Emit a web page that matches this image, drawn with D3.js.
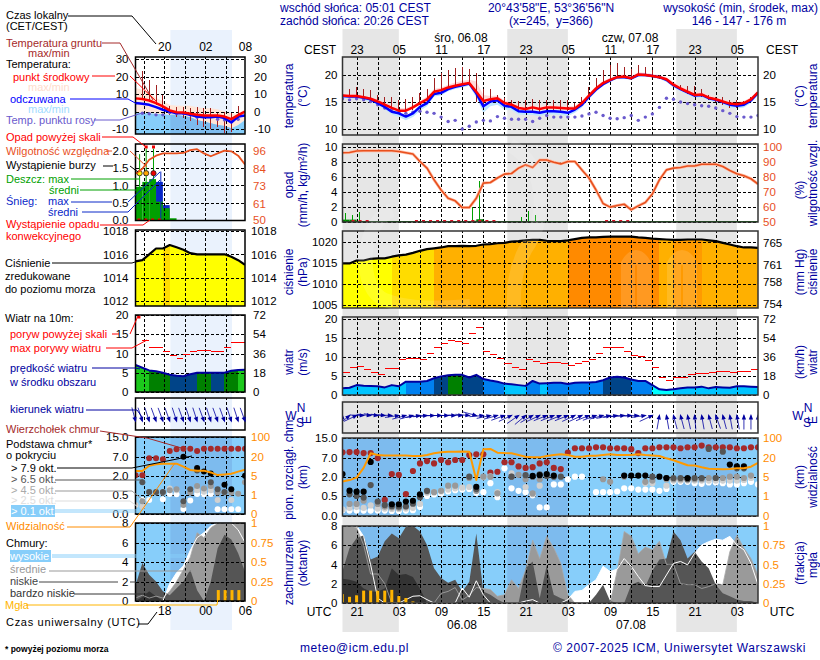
<!DOCTYPE html>
<html>
<head>
<meta charset="utf-8">
<script src="https://cdn.jsdelivr.net/npm/d3@7"></script>
<style>
  html, body { margin: 0; padding: 0; background: #fff; }
  svg { display: block; font-family: "Liberation Sans", Arial, sans-serif; font-size: 12px; }
  text { white-space: pre; }
</style>
</head>
<body>
<div id="chart"></div>
<script>
// ---- main chart, one value per hour, hour 0 = 05.08 19 UTC ----
const tempMid = [
  16.2,16.1,16.1,15.9,15.6,15.1,14.5,13.9,13.4,13.4,
  14.0,14.8,15.5,16.9,17.2,17.7,18.0,18.3,18.5,16.9,
  15.2,15.5,15.7,14.8,14.5,13.9,13.7,14.0,13.7,14.0,
  14.0,13.9,13.8,13.8,14.8,16.2,17.5,18.5,19.1,19.6,
  19.7,19.4,20.1,20.0,19.8,19.6,19.2,18.2,17.5,16.9,
  16.3,16.4,15.8,15.5,15.1,14.7,14.6,14.8,15.5,16.8];
const tempHi = [
  16.5,16.5,16.4,16.2,15.9,15.5,15,14.4,13.9,13.9,
  14.4,15.2,16,17.4,17.7,18.2,18.6,18.9,19.1,18.8,
  16.3,16.1,16.2,15.3,15,14.4,14.1,14.4,14.2,14.4,
  14.4,14.3,14.2,14.3,15.2,16.6,17.9,18.9,19.5,20,
  20.1,19.8,20.5,20.4,20.2,20,19.6,18.7,18,17.4,
  16.8,16.9,16.3,15.9,15.5,15.1,15,15.2,15.9,17.2];
const feelMid = [
  16.1,16,16,15.8,15.5,14.8,14.1,13.2,12.9,12.3,
  12.9,14.1,14.8,16.5,16.7,17.4,17.8,18.1,18.4,16.6,
  14.2,15.1,15.3,14.3,14.1,13.3,13.2,13.2,13,13.3,
  13.3,13.2,13,13.6,14.5,16,17.3,18.3,19,19.6,
  19.6,19.4,20,20,19.8,19.6,19.1,18.1,17.4,16.8,
  16.2,16.3,15.7,15.4,15,14.5,14.3,14.5,15.3,16.7];
const feelLo = [
  15.8,15.7,15.6,15.4,15,14.4,13.6,12.7,12.2,11.6,
  12.2,13.4,14.2,16,16.2,17,17.4,17.7,18,15.8,
  13,14.2,14.5,13.6,13.5,12.7,12.6,12.6,12.4,12.7,
  12.7,12.6,12.4,13,14,15.5,16.9,18,18.7,19.3,
  19.3,19.1,19.7,19.7,19.5,19.3,18.7,17.7,17,16.4,
  15.8,15.9,15.3,15,14.5,14,13.8,14,14.8,16.3];
const groundMax = [
  16.4,17.5,17.7,17.4,17.2,16.3,16,16,15.4,15.5,
  16,16.6,17.5,19.4,20.3,21,21.3,21.5,21.2,20.4,
  17.5,17.5,16.3,15.7,15.4,15.1,15.4,15.6,15.4,15.4,
  15.4,15.4,15.4,14.8,16,17.8,19.4,20.9,21.8,22.3,
  21.5,21.2,21.9,21.5,20.9,20,19.4,18.5,18.2,18,
  17.9,17.5,16.3,16,16,15.4,15.4,15.1,16,17.2];
const groundMin = [
  16,15.9,15.9,15.6,15.2,14.6,13.8,13.1,12.9,13,
  13.6,14.4,15.2,16.5,16.9,17.4,17.7,18,18.2,15,
  14.4,15,15.2,14.3,13.9,13.2,13,13.4,12.8,13.3,
  13.4,13.3,13.3,13.4,14.4,15.9,17.2,18.2,18.9,19.4,
  19.5,19.2,19.9,19.8,19.6,19.3,18.9,17.9,17.2,16.5,
  15.9,16,15.4,15,14.4,13.9,13.8,14.2,15,16.4];
const dewPoint = [
  15.6,15.4,15.6,15.4,15.1,14.5,13.9,13.6,13.1,12.9,
  13.1,13.3,13.1,12.9,12.2,11.4,11.6,10,10.5,11.3,
  11.6,11.5,12.3,12,11.8,11.8,11.8,11.4,12,12.5,
  12.2,12.2,12.2,12.2,12.4,12.8,13.1,12.5,12,11.9,
  12.1,12.5,11.6,12.2,12.8,14,15.7,15.5,15,14.7,
  14.5,14.3,14.2,13.9,13.4,12.9,12.3,12.2,12.2,12.5];
const humidity = [
  95.8,96,97,97.2,97.2,97.2,97.2,97.2,96.7,95.8,
  95,90,85.6,77.8,71,65.5,63.8,59.3,59.3,65.5,
  75.6,76,79,81.6,82,85.6,87.8,86,91,91,
  89.5,88.4,90,90,84.4,79,71,62,59.6,60.7,
  61.5,57.8,60.4,62.7,68.4,77.8,84.4,85.6,86,87,
  87,88.2,88.2,88.2,86.7,84,81.8,80.5,78.5,75];
const rainHours = [0.4,1.4,2.4,18.5,19.5,25.4,26.4,27.4];
const rainMax = [1.1,0.9,1.25,2,5.4,0.6,1.4,0.9];
const rainMeanHours = [0,1,18.5,19];
const rainMean = [0.25,0.25,0.1,0.3];
const convectiveHours = [1.5,2.5,3.5,10.5,11.5,12.5,13.5,14.5,15.5,16.5,17.5,18.5,19.5,20.5,21.5,37.5,38.5,39.5,40.5];
const pressure = [
  1014.9,1014.9,1015.6,1015.6,1016,1016.1,1016.1,1016.5,1016.8,1017,
  1017.4,1017.9,1018.3,1018.5,1018.7,1019,1019,1019.1,1019,1019.1,
  1019.4,1019.5,1019.7,1019.8,1020.1,1020.2,1020.4,1020.5,1020.5,1020.3,
  1020.2,1020.2,1020.4,1020.7,1021,1021.1,1021.1,1021.2,1021.3,1021.3,
  1021.3,1021.3,1021.1,1021,1020.8,1020.7,1020.6,1020.5,1020.5,1020.6,
  1020.6,1020.6,1020.4,1020.2,1019.8,1019.4,1019,1018.7,1018.7,1018.6];
const pressureClass = [
  0,0,0,0,0,0,0,1,1,1,
  1,1,1,2,2,2,2,2,2,2,
  2,2,2,2,2,2,2,2,2,2,
  2,2,4,4,4,4,4,4,4,4,
  4,4,4,4,4,2,2,3,3,3,
  3,2,2,2,2,2,2,2,2];
const windSpeed = [
  1.75,1.9,2.6,2.45,2.4,2.3,2,2.6,2.3,3.5,
  3.5,3.5,3.7,4.4,4.9,5.2,5.3,5.3,4.6,5.3,
  4.2,3.8,3.5,3,2.8,2.6,2.4,3.7,3,3.1,
  3.2,3.2,2.9,3.2,3.3,3.3,3.4,3.9,4.6,4.8,
  4.6,4.1,3.7,3.7,2.6,1.5,1.3,1.5,1.75,2,
  2,2.2,1.75,2.1,2,1.9,2.3,2.3,2.2,2.1];
const windClass = [
  1,1,1,1,1,1,1,1,1,2,
  2,2,2,3,3,4,4,3,3,3,
  2,2,2,1,1,1,2,2,1,2,
  2,2,2,2,2,2,2,3,3,3,
  3,2,2,2,0,0,0,1,1,1,
  1,1,1,1,1,1,1,1,1];
const gusts = [
  6,7.2,7.5,6.8,6,5.35,7,7,9.3,9.6,
  9.6,9.4,11,12.5,13.6,14.4,14,13.6,16.2,17.8,
  11.5,10.7,9.6,8.3,7.3,6.8,9.4,8.9,8.3,8.6,
  8.6,8.3,7.8,8.3,8.9,9.4,10.8,12.5,12.5,12.5,
  11.5,10.4,10.1,9.1,7.3,4.65,3.85,4.65,4.65,5.35,
  5.7,5.7,6,6.2,6.2,6,6.2,6.2,6.8];
const windDir = [
  180,230,245,272,275,277,275,272,262,255,
  255,262,265,268,270,270,270,272,275,285,
  265,258,255,250,245,235,230,240,245,248,
  248,248,248,245,245,248,250,255,258,262,
  265,268,268,262,245,190,170,165,165,168,
  175,170,165,160,165,170,170,180,180,180];
const cloudTop = [
  9.2,9.3,9.3,8.9,8.9,6.9,.4,2.7,2.5,.65,
  3.5,5.5,6.1,5.5,6.4,5.8,6.4,6.4,8.1,8.4,
  8.4,3.05,3.3,5.8,5.8,4.7,4.3,4.5,5.5,5.8,
  4.3,4,9.1,10.9,10.9,10.9,11.3,11.3,10.9,10.9,
  10.9,10.5,8.9,10.9,10.9,11.3,11.3,11.3,10.9,11.3,
  11.3,12,11.3,11.3,11.3,11.3,10.9,10.9,11.3,11.3];
const base79 = [
  2.7,.91,.84,.84,5.9,null,null,.29,.29,.36,
  .38,.63,null,null,null,null,null,null,null,1.22,
  null,null,null,null,null,null,null,2.2,2.4,2.7,
  2.3,null,null,null,null,null,null,null,null,null,
  2.3,2.3,2.3,2.3,null,2,1.9,null,null,1.9,
  null,null,null,null,null,5.2,4.7,4.7,null,null];
const base65 = [
  null,.63,.5,.46,1.35,.36,.27,.24,.23,.24,
  .31,.47,.9,null,null,null,null,null,2,1.04,
  null,null,null,null,2,null,2.4,2,2.6,2.2,
  2,2,null,null,null,null,null,null,null,null,
  null,null,null,null,2,null,1.9,1.9,1.9,1.8,
  1.9,1.9,10.6,1.9,9.5,null,4.2,4.2,null,null];
const base45 = [
  null,.3,.3,.38,null,.3,.23,.21,.2,.22,
  .3,.5,.85,.8,.9,1.3,1.3,null,1.9,.9,
  2,2,.7,null,2,2.5,1.8,.7,1.8,null,
  null,null,null,null,null,null,null,1.8,1.6,null,
  2,null,null,1.6,1.7,null,1.8,1.8,1.8,1.8,
  1.8,1.8,1.9,1.9,1.9,2,2,1.9,2.3,null];
const base25 = [
  .16,.2,.22,.2,.26,.18,.18,.17,.17,.18,
  .2,.3,.75,.8,.85,1,1.1,1.15,1.2,.9,
  1.95,2.1,.8,null,2.9,null,1.2,.65,1.3,null,
  null,null,null,null,null,null,null,null,null,null,
  null,null,null,1.5,1.5,null,1.3,1.7,1.7,1.7,
  1.7,1.7,1.7,1.7,1.7,1.7,1.7,1.75,1.9,null];
const base01 = [
  .14,.13,.13,.13,.13,.13,.13,.12,.12,.13,
  .14,.22,.5,.62,.7,.85,.95,1,1.05,.75,
  .8,1.5,.47,4.2,1.1,.9,.8,.55,.21,.21,
  1.4,1.4,1.8,2,2,null,.8,.8,.8,.85,
  1.1,1.1,1,1,1,.9,1.05,1.6,1.6,1.6,
  1.5,1.45,1.55,1.55,1.5,1.4,1.4,1.5,1.6,1.4];
const visibility = [
  4,4.3,4.8,12,38,31,28.7,28.7,28.7,28.7,
  27,27,31,38,42,45,45,46,45,4.3,
  54.5,56,40.7,39,38,31,24,21.4,21.4,27,
  31,34,31,24,24,28.3,28.3,31,34,31,
  31,31,34,31,28.7,27,19.5,18,16,14,
  13.8,12.4,11.3,11,10.8,11,11.6,11.6,12.9,15.9];
const coverHigh = [
  8,8,8,6.9,3.95,.5,0,0,0,.35,
  .7,.75,.35,0,0,0,0,1.55,.6,2.3,
  .85,0,0,0,0,0,.2,.35,0,0,
  0,0,.35,1.2,1.3,1.9,2.4,3.8,3.25,3.5,
  4.6,3.8,2.75,1.8,1.7,1.7,2.9,4.1,4.3,3.95,
  5.15,6,6.35,6.6,6.5,6.9,6,5.5,4.1,1.9];
const coverMid = [
  8,8,7.8,6,3,3,2,0,0,0,
  0,0,0,0,1,1.2,1.6,.3,.8,1.6,
  1.5,1.4,.7,.85,2.4,1.5,3.4,6.5,4.6,6.9,
  5.7,4.1,.85,0,0,0,0,0,0,3.3,
  7.4,6.9,5.1,5.8,5.5,6.4,4,4,2,1.9,
  1.9,1.5,1.7,2,1.9,5.3,7,5.7,4.6,2.9];
const coverLow = [
  3.3,5.7,6.7,7,4.5,4.8,6.4,7.2,6.7,7.9,
  8,7.4,6,3.6,2.6,2.1,2.4,1.2,2.2,7.2,
  1.2,.85,.35,0,0,0,3.6,4.3,.5,3.9,
  .85,.5,.2,0,0,0,.85,1.9,.2,0,
  0,1.9,2.2,1.7,3.3,4.5,4.6,7.4,6.5,4.6,
  5.3,4.3,3.6,1.9,1,.7,.35,.2,.2,0];
const coverVeryLow = [
  2.5,2.4,2.2,1.5,1.2,1.2,1.5,3.6,2.9,3,
  2.7,1.5,0,0,0,0,0,0,0,0,
  0,0,0,0,0,0,0,0,0,0,
  0,0,0,0,0,0,0,0,0,0,
  0,0,0,0,0,0,0,0,0,0,
  0,0,0,0,0,0,0,0,0,0];
const fogHours = [0,1,2,3,4,5,6,7,8,9,10];
const fog = [.115,.08,.1,.16,.16,.16,.16,.17,.09,.065,.02];

// ---- example (legend) panel, one value per hour ----
const legTempHi = [13.5,12.5,11,7.7,5.8,3.8,3.3,3.3,3.3,2.5,1.9,1.9,1.3,0,-1.3,-1,1];
const legFeelHi = [0,-1,-1,-1.3,-1.5,-1.9,-1.9,-2.5,-3.3,-4.8,-5.8,-6.7,-7.7,-8.3,-9.6,-7.7,-4.8];
const legFeelLo = [-20,-20,-20,-20,-20,-20,-20,-20,-20,-20,-20,-20,-20,-20,-20,-20,-20];
const legTemp = [7.5,7.1,6.3,4.8,2.9,.6,-.4,-.6,-1.3,-1.9,-2.3,-2.3,-2.3,-2.9,-4.4,-2.1,0];
const legFeel = [4.8,4.4,3.8,2.5,1,0,-1,-1,-1.9,-2.9,-3.3,-3.3,-2.9,-3.8,-6.3,-2.9,-2.3];
const legDew = [null,-1,-1.3,-1.9,-1.9,-.6,-1,-1,-1.9,-3.3,-2.9,-2.9,-4.4,-4.8,-5.8,-4.4,null];
const legGroundMax = [null,23,18,15,9.6,2.9,2.5,2.5,1.9,2.5,1.9,1.9,-1,0,-1,3.3,null];
const legGroundMin = [null,7,6.7,3.8,1,-1.9,-2.9,-3.8,-5.2,-7.7,-8.7,-10.2,-8.7,-12.5,-11.9,-4.8,null];
const legHumidity = [80.7,84,90,92.7,94.2,94.2,94.2,94.5,96.4,97,94.2,92.3,94.2,96,95.6,92.7,86.8];
const legRainBars = [.96,1.1,1.18,.53,.34,.05];
const legSnowBars = [0,0,0,1.1,.43,0];
const legRainHours = [.6,1.56,2.63];
const legRainMax = [1.9,2.06,2.06];
const legStormLevel = [1.35,1.35,1.35];
const legOverScaleHours = [1.56,2.63];
const legSnowHour = [3.7];
const legSnowMax = [1.4];
const legConvectiveHours = [.5,1.5,2.5,3.5];
const legPressure = [1015.4,1015.5,1016,1016.5,1016.5,1016.8,1016.6,1016.4,1016.1,1016,1016,1016,1016,1016,1015.8,1015.5,1015.1];
const legPressureClass = [0,0,0,0,1,0,0,0,0,0,0,0,0,0,0,0];
const legWind = [7,6.3,5.6,5.4,5,4.5,4.2,4.1,4.6,5,5,5,5,5,5.5,5.7,5.8];
const legWindClass = [5,5,4,4,4,3,3,3,3,4,4,3,3,4,4,5];
const legGusts = [null,13.5,11.6,11.6,10.4,9.4,8.7,9.7,10.4,10.7,10.7,10.4,10.4,11.6,12.8,12.8];
const legDir = [345,342,342,340,340,340,342,340,342,342,340,342,340,340,342,342,340];
const legCloudTop = [2.1,2.1,6.6,6.6,6.3,9.3,10,10.2,10.2,9.3,10.2,10.2,10.2,10.2,10.2,10.2,10.2];
const legBase79 = [null,null,null,null,null,null,null,7,null,4,3.1,2.6,null,1.3,.95,null,2];
const legBase65 = [null,1.5,.73,.73,.73,null,null,.34,.95,3.4,null,1.5,.95,.73,null,null,null];
const legBase45 = [null,.34,.73,.7,.7,.86,.95,.24,.7,1.2,1,1.2,.7,.7,.7,.6,1.5];
const legBase25 = [.24,.2,null,null,.7,1,.86,null,null,.86,.76,.86,.37,null,.37,null,null];
const legBase01 = [null,.37,.37,null,.39,.58,.56,.14,.36,.58,.56,.58,.13,.13,.13,.13,null];
const legVisibility = [8.7,8.7,12.9,14,14.5,14.5,14.5,12.1,9.5,9,9,7.6,5.5,6,6.6,8.2,9.7];
const legHigh = [0,0,0,0,0,1.8,2.9,3.6,5.2,6.5,7,7.7,8,8,8,7.3,6];
const legMid = [.3,.6,.3,.5,.3,1,2,3.2,4.5,7,6.5,7.5,8,8,8,8,8];
const legLow = [1.6,3.9,2.7,2,1,.6,1.3,2,3.2,1.1,0,2,5.4,6.8,6.3,4.9,3];
const legVeryLow = [0,.4,1,.5,0,0,0,0,0,0,0,0,0,0,0,0,0];
const legFogHours = [12.1,13.1,14.1,15.1];
const legFog = [.14,.14,.14,.14];

// ---- tick labels ----
const gridHours = [2,5,8,11,14,17,20,23,26,29,32,35,38,41,44,47,50,53,56];
const labelHours = [2,8,14,20,26,32,38,44,50,56];
const cestLabels = ["23","05","11","17","23","05","11","17","23","05"];
const utcLabels = ["21","03","09","15","21","03","09","15","21","03"];
const nightStart = [0,23.4,47.4];
const nightEnd = [8,32,56];
const legGridHours = [1.2,4.2,7.2,10.2,13.2];
const legLabelHours = [4.2,10.2,16];
const legCestLabels = ["20","02","08"];
const legUtcLabels = ["18","00","06"];
const legNight = [5.1,14.1];

const navy = "#0000a0";
const orange = "#ff8c00";
const rhColor = "#e8501e";
const sky = "#87cefa";
const skyNight = "#7dbbee";
const pressureColors = ["#ffff00","#ffdc00","#ffb000","#ff9a00","#ff8a00"];
const windColors = ["#00ffff","#00c4ff","#0080f0","#004488","#008000","#1cc81c"];

const svg = d3.select("#chart").append("svg").attr("width", 820).attr("height", 660);

const xMain = d3.scaleLinear().domain([0, 59]).range([342.5, 758]);
const xLeg = d3.scaleLinear().domain([0, 16]).range([135.5, 245]);

// night bands behind everything
svg.selectAll(".nightBand").data(nightStart).enter().append("rect")
  .attr("x", d => xMain(d))
  .attr("y", 29)
  .attr("width", (d, i) => xMain(nightEnd[i]) - xMain(d))
  .attr("height", 603)
  .attr("fill", "#e6e6e6");
svg.append("rect")
  .attr("x", xLeg(legNight[0]))
  .attr("y", 30)
  .attr("width", xLeg(legNight[1]) - xLeg(legNight[0]))
  .attr("height", 600)
  .attr("fill", "#eaf2fd");

let panelCount = 0;
function panel(cfg) {
  const id = "clip" + (panelCount++);
  const x0 = cfg.x.range()[0], x1 = cfg.x.range()[1];
  svg.append("clipPath").attr("id", id).append("rect")
    .attr("x", x0).attr("y", cfg.top).attr("width", x1 - x0).attr("height", cfg.bottom - cfg.top);
  const under = svg.append("g").attr("clip-path", `url(#${id})`);
  const grid = svg.append("g");
  const over = svg.append("g").attr("clip-path", `url(#${id})`);

  grid.append("g")
    .attr("transform", `translate(0,${cfg.bottom})`)
    .call(d3.axisBottom(cfg.x).tickValues(cfg.grid).tickSize(cfg.top - cfg.bottom).tickFormat(""))
    .call(g => g.select(".domain").remove())
    .selectAll("line").attr("stroke", "#000").attr("stroke-dasharray", "3,2").attr("shape-rendering", "crispEdges");

  const left = grid.append("g")
    .attr("transform", `translate(${x0},0)`)
    .call(d3.axisLeft(cfg.yLeft).tickValues(cfg.leftTicks).tickSize(x0 - x1).tickPadding(cfg.leftPad || 5).tickFormat(cfg.leftFmt || (d => d)))
    .call(g => g.select(".domain").remove());
  left.selectAll("line").attr("stroke", "#000").attr("stroke-dasharray", "3,2").attr("shape-rendering", "crispEdges");
  left.attr("font-family", null).attr("font-size", null);
  left.selectAll("text").attr("fill", "#000").style("font-size", "11.5px");

  if (cfg.yRight) {
    const right = grid.append("g")
      .attr("transform", `translate(${x1},0)`)
      .call(d3.axisRight(cfg.yRight).tickValues(cfg.rightTicks).tickSize(0).tickPadding(cfg.rightPad || 5).tickFormat(cfg.rightFmt || (d => d)))
      .call(g => g.select(".domain").remove());
    right.attr("font-family", null).attr("font-size", null);
    right.selectAll("text").attr("fill", cfg.rightColor || "#000").style("font-size", "11.5px");
  }

  svg.append("rect")
    .attr("x", x0).attr("y", cfg.top).attr("width", x1 - x0).attr("height", cfg.bottom - cfg.top)
    .attr("fill", "none")
    .attr("stroke", cfg.frame || "#000")
    .attr("stroke-width", cfg.frameWidth || 1.5);
  return { under, over, x: cfg.x };
}

function drawLine(g, x, y, values, color, width) {
  g.append("path")
    .attr("d", d3.line().x((d, i) => x(i)).y(d => y(d))(values))
    .attr("fill", "none").attr("stroke", color).attr("stroke-width", width)
    .attr("stroke-linejoin", "round");
}

function drawBand(g, x, y, hi, lo, color) {
  g.append("path")
    .attr("d", d3.area().x((d, i) => x(i)).y0((d, i) => y(lo[i])).y1(d => y(d))(hi))
    .attr("fill", color);
}

function drawClassFill(g, x, y, values, classes, colors) {
  classes.forEach((c, i) => {
    g.append("path")
      .attr("d", d3.area().x(d => x(d)).y0(y.range()[0] + 6).y1(d => y(values[d]))([i, i + 1]))
      .attr("fill", colors[c])
      .attr("shape-rendering", "crispEdges");
  });
}

function drawDots(g, x, y, values, color, r) {
  values.forEach((v, i) => {
    if (v === null) return;
    g.append("circle").attr("cx", x(i)).attr("cy", y(v)).attr("r", r).attr("fill", color);
  });
}

function drawArrows(g, x, tipY, dirs, len) {
  dirs.forEach((dir, i) => {
    const rad = dir * Math.PI / 180;
    const tx = x(i), ty = tipY;
    const bx = tx + len * Math.sin(rad), by = ty - len * Math.cos(rad);
    const ang = Math.atan2(ty - by, tx - bx);
    const head = 4.5;
    g.append("line").attr("x1", bx).attr("y1", by).attr("x2", tx).attr("y2", ty)
      .attr("stroke", navy).attr("stroke-width", 0.8);
    g.append("path")
      .attr("d", d3.line()([
        [tx + 1.5 * Math.cos(ang), ty + 1.5 * Math.sin(ang)],
        [tx - head * Math.cos(ang - 0.5), ty - head * Math.sin(ang - 0.5)],
        [tx - head * Math.cos(ang + 0.5), ty - head * Math.sin(ang + 0.5)]
      ]) + "Z")
      .attr("fill", navy);
  });
}

function drawCover(p, y, yF, high, mid, low, veryLow, fHours, fVals, barW) {
  const x = p.x;
  const layer = (vals, color) => p.under.append("path")
    .attr("d", d3.area().x((d, i) => x(i)).y0(y(0)).y1(d => y(d))(vals)).attr("fill", color);
  layer(high, "#fff");
  layer(mid, "#9a9a9a");
  layer(low, "#555");
  layer(veryLow, "#333");
  drawLine(p.over, x, y, mid, "#aaa", 0.8);
  drawLine(p.over, x, y, high, "#fff", 1);
  fVals.forEach((v, i) => {
    p.over.append("rect")
      .attr("x", x(fHours[i]) - barW / 2).attr("y", yF(v))
      .attr("width", barW).attr("height", yF(0) - yF(v))
      .attr("fill", "#ffb400");
  });
}

function timeAxis(x, y, tickHours, labels) {
  const g = svg.append("g")
    .attr("transform", `translate(0,${y})`)
    .call(d3.axisTop(x).tickValues(tickHours).tickSize(0).tickPadding(0).tickFormat((d, i) => labels[i]))
    .call(g => g.select(".domain").remove());
  g.attr("font-family", null).attr("font-size", null);
  g.selectAll("text").attr("fill", "#000");
}

function label(x, y, text, color, anchor, size, weight) {
  return svg.append("text")
    .attr("x", x).attr("y", y + 4)
    .attr("fill", color || "#000")
    .attr("text-anchor", anchor || "start")
    .style("font-size", size || "12px")
    .style("font-weight", weight || "normal")
    .text(text);
}

function legendLabel(x, y, text, color) {
  return label(x, y, text, color, "start", "11px");
}

function vLabel(x, y, text, color) {
  svg.append("text")
    .attr("transform", `translate(${x + 4},${y}) rotate(-90)`)
    .attr("text-anchor", "middle")
    .attr("fill", color || navy)
    .text(text);
}

// ---- main panels ----
const yTemp = d3.scaleLinear().domain([10, 20]).range([129, 75]);
const pTemp = panel({ x: xMain, grid: gridHours, top: 57, bottom: 135, yLeft: yTemp, leftTicks: [10,15,20],
  yRight: yTemp, rightTicks: [10,15,20], frame: "#333", frameWidth: 1.5 });
drawBand(pTemp.under, xMain, yTemp, tempHi, tempMid, "#ffd9d9");
drawBand(pTemp.under, xMain, yTemp, feelMid, feelLo, "#bfe6ff");
groundMax.forEach((v, i) => {
  pTemp.over.append("line")
    .attr("x1", xMain(i)).attr("x2", xMain(i))
    .attr("y1", yTemp(v)).attr("y2", yTemp(groundMin[i]))
    .attr("stroke", "#a02020").attr("stroke-width", 1).attr("shape-rendering", "crispEdges");
});
drawDots(pTemp.over, xMain, yTemp, dewPoint, "#6a5acd", 1.7);
drawLine(pTemp.over, xMain, yTemp, feelMid, "#0000ff", 2.5);
drawLine(pTemp.over, xMain, yTemp, tempMid, "#ff0000", 2.5);

const yRain = d3.scaleLinear().domain([0, 10]).range([221.5, 146.5]);
const yHum = d3.scaleLinear().domain([50, 100]).range([221.5, 146.5]);
const pRain = panel({ x: xMain, grid: gridHours, top: 144, bottom: 222, yLeft: yRain, leftTicks: [0,2,4,6,8,10],
  yRight: yHum, rightTicks: [50,60,70,80,90,100], rightColor: rhColor, frame: "#333", frameWidth: 1.5 });
pRain.over.append("line").attr("x1", xMain(0)).attr("x2", xMain(59)).attr("y1", yRain(0)).attr("y2", yRain(0))
  .attr("stroke", "#008000").attr("stroke-width", 1);
rainMeanHours.forEach((h, i) => {
  pRain.over.append("rect")
    .attr("x", xMain(h)).attr("width", xMain(1) - xMain(0))
    .attr("y", yRain(rainMean[i])).attr("height", yRain(0) - yRain(rainMean[i]))
    .attr("fill", "#008000");
});
rainHours.forEach((h, i) => {
  pRain.over.append("line").attr("x1", xMain(h)).attr("x2", xMain(h))
    .attr("y1", yRain(0)).attr("y2", yRain(rainMax[i]))
    .attr("stroke", "#00a000").attr("stroke-width", 1).attr("shape-rendering", "crispEdges");
});
convectiveHours.forEach(h => {
  pRain.over.append("rect").attr("x", xMain(h) - 1.5).attr("y", yRain(0) - 1.5)
    .attr("width", 3).attr("height", 2).attr("fill", "#d81020");
});
drawLine(pRain.over, xMain, yHum, humidity, "#ffbfa8", 3);
drawLine(pRain.over, xMain, yHum, humidity, rhColor, 1.6);

const yPress = d3.scaleLinear().domain([1005, 1020]).range([305, 242]);
const yMmHg = d3.scaleLinear().domain([753.8, 765.1]).range([305, 242]);
const pPress = panel({ x: xMain, grid: gridHours, top: 231, bottom: 308, yLeft: yPress, leftTicks: [1005,1010,1015,1020],
  yRight: yMmHg, rightTicks: [754,758,761,765], frame: "#333", frameWidth: 1.5 });
drawClassFill(pPress.under, xMain, yPress, pressure, pressureClass, pressureColors);
drawLine(pPress.over, xMain, yPress, pressure, "#000", 2.2);

const yWind = d3.scaleLinear().domain([0, 20]).range([395, 319]);
const yKmh = d3.scaleLinear().domain([0, 72]).range([395, 319]);
const pWind = panel({ x: xMain, grid: gridHours, top: 317, bottom: 395, yLeft: yWind, leftTicks: [0,5,10,15,20],
  yRight: yKmh, rightTicks: [0,18,36,54,72], frame: "#333", frameWidth: 1.5 });
drawClassFill(pWind.under, xMain, yWind, windSpeed, windClass, windColors);
gusts.forEach((v, i) => {
  pWind.over.append("line").attr("x1", xMain(i)).attr("x2", xMain(i + 1))
    .attr("y1", yWind(v)).attr("y2", yWind(v)).attr("stroke", "#ff0000").attr("stroke-width", 1).attr("shape-rendering", "crispEdges");
});
drawLine(pWind.over, xMain, yWind, windSpeed, "#0000a0", 2);

const yDirMain = d3.scaleLinear().domain([0, 1]).range([433, 402]);
const pDir = panel({ x: xMain, grid: gridHours, top: 402, bottom: 433, yLeft: yDirMain, leftTicks: [], frame: "#333", frameWidth: 1.5 });
drawArrows(pDir.over, xMain, 415.5, windDir, 14);

const kmDomain = [0, .5, 2, 7, 15];
const visDomain = [0, 1, 5, 20, 100];
const yCloud = d3.scaleLinear().domain(kmDomain).range([515.7, 496, 476.7, 457.7, 438.3]);
const yVis = d3.scaleLinear().domain(visDomain).range([515.7, 496, 476.7, 457.7, 438.3]);
const pCloud = panel({ x: xMain, grid: gridHours, top: 438, bottom: 516, yLeft: yCloud, leftTicks: kmDomain, leftFmt: d3.format(".1f"),
  yRight: yVis, rightTicks: visDomain, rightColor: orange, frame: "#333", frameWidth: 1.5 });
pCloud.under.append("rect").attr("x", 342).attr("y", 438).attr("width", 416).attr("height", 78).attr("fill", sky);
nightStart.forEach((d, i) => {
  pCloud.under.append("rect").attr("x", xMain(d)).attr("y", 438)
    .attr("width", xMain(nightEnd[i]) - xMain(d)).attr("height", 78).attr("fill", skyNight);
});
drawDots(pCloud.over, xMain, yCloud, cloudTop, "#a52a2a", 3.1);
drawDots(pCloud.over, xMain, yCloud, base01, "#fff", 3.1);
drawDots(pCloud.over, xMain, yCloud, base25, "#d0d0d0", 3.1);
drawDots(pCloud.over, xMain, yCloud, base45, "#999", 3.1);
drawDots(pCloud.over, xMain, yCloud, base65, "#555", 3.1);
drawDots(pCloud.over, xMain, yCloud, base79, "#000", 3.1);
drawLine(pCloud.over, xMain, yVis, visibility, "#ff9900", 2);

const yCover = d3.scaleLinear().domain([0, 8]).range([603, 525.7]);
const yFog = d3.scaleLinear().domain([0, 1]).range([603, 525.7]);
const pCover = panel({ x: xMain, grid: gridHours, top: 526, bottom: 603, yLeft: yCover, leftTicks: [0,2,4,6,8],
  yRight: yFog, rightTicks: [0,.25,.5,.75,1], rightColor: orange, frame: "#333", frameWidth: 1.5 });
pCover.under.append("rect").attr("x", 342).attr("y", 526).attr("width", 416).attr("height", 78).attr("fill", sky);
nightStart.forEach((d, i) => {
  pCover.under.append("rect").attr("x", xMain(d)).attr("y", 526)
    .attr("width", xMain(nightEnd[i]) - xMain(d)).attr("height", 78).attr("fill", skyNight);
});
drawCover(pCover, yCover, yFog, coverHigh, coverMid, coverLow, coverVeryLow, fogHours, fog, 3);

timeAxis(xMain, 54, labelHours, cestLabels);
timeAxis(xMain, 616, labelHours, utcLabels);

// faint logo strokes that show through the bands and the pressure fill
const logoStrokes = [
  "M392 210 C358 225 358 290 385 300 C410 310 440 308 470 306",
  "M510 145 C545 165 550 215 525 250 C515 270 512 290 515 320",
  "M628 308 V264 Q636 250 644 264 V308",
  "M674 308 V264 Q682 250 690 264 V308"
];
logoStrokes.forEach(d => {
  svg.append("path").attr("d", d)
    .attr("fill", "none").attr("stroke", "#fff").attr("stroke-opacity", 0.13).attr("stroke-width", 14);
});

// ---- legend panels ----
const yLegTemp = d3.scaleLinear().domain([-10, 30]).range([129, 59]);
const pLegTemp = panel({ x: xLeg, grid: legGridHours, top: 57, bottom: 134, yLeft: yLegTemp, leftTicks: [-10,0,10,20,30], leftPad: 7,
  yRight: yLegTemp, rightTicks: [-10,0,10,20,30], rightPad: 9 });
drawBand(pLegTemp.under, xLeg, yLegTemp, legTempHi, legFeelHi, "#ffe6d8");
drawBand(pLegTemp.under, xLeg, yLegTemp, legFeelHi, legFeelLo, sky);
svg.append("clipPath").attr("id", "legNightClip").append("rect")
  .attr("x", xLeg(legNight[0])).attr("y", 57)
  .attr("width", xLeg(legNight[1]) - xLeg(legNight[0])).attr("height", 77);
pLegTemp.under.append("g").attr("clip-path", "url(#legNightClip)").call(g =>
  drawBand(g, xLeg, yLegTemp, legFeelHi, legFeelLo, skyNight));
legGroundMax.forEach((v, i) => {
  if (v === null) return;
  pLegTemp.over.append("line").attr("x1", xLeg(i)).attr("x2", xLeg(i))
    .attr("y1", yLegTemp(v)).attr("y2", yLegTemp(legGroundMin[i]))
    .attr("stroke", "#a02020").attr("stroke-width", 1).attr("shape-rendering", "crispEdges");
});
drawDots(pLegTemp.over, xLeg, yLegTemp, legDew, "#6a5acd", 1.7);
drawLine(pLegTemp.over, xLeg, yLegTemp, legFeel, "#0000ff", 2.5);
drawLine(pLegTemp.over, xLeg, yLegTemp, legTemp, "#ff0000", 2.5);

const yLegRain = d3.scaleLinear().domain([0, 2]).range([220, 150.7]);
const yLegHum = d3.scaleLinear().domain([50, 96]).range([220, 150.7]);
const pLegRain = panel({ x: xLeg, grid: legGridHours, top: 144, bottom: 220.5, yLeft: yLegRain, leftTicks: [0,.5,1,1.5,2], leftFmt: d3.format(".1f"), leftPad: 7,
  yRight: yLegHum, rightTicks: [50,61,73,84,96], rightColor: rhColor, rightPad: 8 });
legSnowBars.forEach((v, i) => {
  pLegRain.under.append("rect").attr("x", xLeg(i)).attr("width", xLeg(1) - xLeg(0))
    .attr("y", yLegRain(v)).attr("height", yLegRain(0) - yLegRain(v)).attr("fill", "#0a28c8");
});
legRainBars.forEach((v, i) => {
  pLegRain.under.append("rect").attr("x", xLeg(i)).attr("width", xLeg(1) - xLeg(0))
    .attr("y", yLegRain(v)).attr("height", yLegRain(0) - yLegRain(v)).attr("fill", "#00a000");
});
legRainHours.forEach((h, i) => {
  pLegRain.over.append("line").attr("x1", xLeg(h)).attr("x2", xLeg(h))
    .attr("y1", yLegRain(0)).attr("y2", yLegRain(legRainMax[i]))
    .attr("stroke", "#00a000").attr("stroke-width", 1);
  pLegRain.over.append("circle").attr("cx", xLeg(h)).attr("cy", yLegRain(legStormLevel[i])).attr("r", 2.6)
    .attr("fill", ["#ffee00","#ffa500","#ee0000"][i]).attr("stroke", "#222").attr("stroke-width", 0.8);
});
legOverScaleHours.forEach(h => {
  pLegRain.over.append("rect").attr("x", xLeg(h) - 1.5).attr("y", 145.5).attr("width", 3).attr("height", 3).attr("fill", "#ee0000");
});
legSnowHour.forEach((h, i) => {
  pLegRain.over.append("line").attr("x1", xLeg(h)).attr("x2", xLeg(h))
    .attr("y1", yLegRain(0)).attr("y2", yLegRain(legSnowMax[i])).attr("stroke", "#0a28c8");
});
legConvectiveHours.forEach(h => {
  pLegRain.over.append("rect").attr("x", xLeg(h) - 1.5).attr("y", yLegRain(0) - 1.5).attr("width", 3).attr("height", 1.5).attr("fill", "#ee0000");
});
drawLine(pLegRain.over, xLeg, yLegHum, legHumidity, "#e8501e", 1.8);

const yLegPress = d3.scaleLinear().domain([1012, 1018]).range([301, 231]);
const pLegPress = panel({ x: xLeg, grid: legGridHours, top: 230, bottom: 306, yLeft: yLegPress, leftTicks: [1012,1014,1016,1018], leftPad: 7,
  yRight: yLegPress, rightTicks: [1012,1014,1016,1018], rightPad: 6 });
drawClassFill(pLegPress.under, xLeg, yLegPress, legPressure, legPressureClass, pressureColors);
drawLine(pLegPress.over, xLeg, yLegPress, legPressure, "#000", 2.2);

const yLegWind = d3.scaleLinear().domain([0, 20]).range([392, 315]);
const yLegKmh = d3.scaleLinear().domain([0, 72]).range([392, 315]);
const pLegWind = panel({ x: xLeg, grid: legGridHours, top: 315, bottom: 392, yLeft: yLegWind, leftTicks: [0,5,10,15,20], leftPad: 7,
  yRight: yLegKmh, rightTicks: [0,18,36,54,72], rightPad: 8 });
drawClassFill(pLegWind.under, xLeg, yLegWind, legWind, legWindClass, windColors);
legGusts.forEach((v, i) => {
  if (v === null) return;
  pLegWind.over.append("line").attr("x1", xLeg(i)).attr("x2", xLeg(i + 1))
    .attr("y1", yLegWind(v)).attr("y2", yLegWind(v)).attr("stroke", "#ff0000").attr("stroke-width", 1).attr("shape-rendering", "crispEdges");
});
pLegWind.over.append("rect").attr("x", xLeg(.5) - 1.5).attr("y", 315.5).attr("width", 3).attr("height", 3).attr("fill", "#ee0000");
drawLine(pLegWind.over, xLeg, yLegWind, legWind, "#0000a0", 2);

const yLegDir = d3.scaleLinear().domain([0, 1]).range([430, 398]);
const pLegDir = panel({ x: xLeg, grid: legGridHours, top: 398, bottom: 430, yLeft: yLegDir, leftTicks: [] });
drawArrows(svg.append("g"), xLeg, 421, legDir, 14);

const yLegCloud = d3.scaleLinear().domain(kmDomain).range([514.3, 495, 475.7, 456.7, 436.7]);
const yLegVis = d3.scaleLinear().domain(visDomain).range([514.3, 495, 475.7, 456.7, 436.7]);
const pLegCloud = panel({ x: xLeg, grid: legGridHours, top: 437, bottom: 514, yLeft: yLegCloud, leftTicks: kmDomain, leftFmt: d3.format(".1f"), leftPad: 7,
  yRight: yLegVis, rightTicks: visDomain, rightColor: orange, rightPad: 6 });
pLegCloud.under.append("rect").attr("x", 135).attr("y", 437).attr("width", 110).attr("height", 77).attr("fill", sky);
pLegCloud.under.append("rect").attr("x", xLeg(legNight[0])).attr("y", 437)
  .attr("width", xLeg(legNight[1]) - xLeg(legNight[0])).attr("height", 77).attr("fill", skyNight);
drawDots(pLegCloud.over, xLeg, yLegCloud, legCloudTop, "#a52a2a", 3);
drawDots(pLegCloud.over, xLeg, yLegCloud, legBase01, "#fff", 3);
drawDots(pLegCloud.over, xLeg, yLegCloud, legBase25, "#d0d0d0", 3);
drawDots(pLegCloud.over, xLeg, yLegCloud, legBase45, "#999", 3);
drawDots(pLegCloud.over, xLeg, yLegCloud, legBase65, "#555", 3);
drawDots(pLegCloud.over, xLeg, yLegCloud, legBase79, "#000", 3);
drawLine(pLegCloud.over, xLeg, yLegVis, legVisibility, "#ff9900", 2);

const yLegCover = d3.scaleLinear().domain([0, 8]).range([601, 523]);
const yLegFog = d3.scaleLinear().domain([0, 1]).range([601, 523]);
const pLegCover = panel({ x: xLeg, grid: legGridHours, top: 523, bottom: 601, yLeft: yLegCover, leftTicks: [0,2,4,6,8], leftPad: 7,
  yRight: yLegFog, rightTicks: [0,.25,.5,.75,1], rightColor: orange, rightPad: 6 });
pLegCover.under.append("rect").attr("x", 135).attr("y", 523).attr("width", 110).attr("height", 78).attr("fill", sky);
pLegCover.under.append("rect").attr("x", xLeg(legNight[0])).attr("y", 523)
  .attr("width", xLeg(legNight[1]) - xLeg(legNight[0])).attr("height", 78).attr("fill", skyNight);
drawCover(pLegCover, yLegCover, yLegFog, legHigh, legMid, legLow, legVeryLow, legFogHours, legFog, 3);

timeAxis(xLeg, 51, legLabelHours, legCestLabels);
timeAxis(xLeg, 615, legLabelHours, legUtcLabels);

// ---- leader lines of the legend ----
const leaderLines = [
  ["#000", [[68,16],[132,16],[156,44]]],
  ["#a52a2a", [[102,43],[120,43],[153,100]]],
  ["#f00", [[92,76],[115,76]]],
  ["#f00", [[130,76],[157,102]]],
  ["#00f", [[70,99],[128,99],[137,104]]],
  ["#6a5acd", [[94,120],[120,120],[142,113]]],
  ["#f00", [[102,137],[133,137],[146,147]]],
  [rhColor, [[106,151],[112,151]]],
  [rhColor, [[130,151],[147,167]]],
  ["#000", [[103,166],[113,166]]],
  ["#000", [[130,166],[138,172]]],
  ["#00a000", [[71,179],[139,179]]],
  ["#00a000", [[80,190],[144,190]]],
  ["#0a28c8", [[71,202],[112,202]]],
  ["#0a28c8", [[128,202],[160,172]]],
  ["#0a28c8", [[82,212],[128,212],[160,180]]],
  ["#f00", [[100,225],[143,225],[150,220]]],
  ["#000", [[52,263],[132,263],[135,262]]],
  ["#f00", [[112,334],[119,334]]],
  ["#f00", [[130,334],[138,316]]],
  ["#f00", [[106,348],[132,348],[147,340]]],
  [navy, [[92,368],[135,368],[140,369]]],
  [navy, [[86,410],[137,410],[142,417]]],
  ["#a52a2a", [[100,431],[147,438],[185,449]]],
  ["#000", [[57,468],[132,468],[192,456]]],
  ["#555", [[55,480],[143,480]]],
  ["#999", [[55,491],[132,491],[143,500]]],
  ["#ddd", [[55,501],[130,501],[138,507]]],
  [sky, [[55,510],[137,510]]],
  [sky, [[55,512],[137,512]]],
  [orange, [[67,527],[130,527],[175,463]]],
  [sky, [[52,555],[187,555]]],
  [sky, [[52,557],[187,557]]],
  ["#999", [[49,571],[193,571]]],
  ["#444", [[39,582],[118,582]]],
  ["#444", [[130,582],[136,582]]],
  ["#333", [[74,594],[150,594]]],
  ["#ffb400", [[26,605],[217,605],[218,598]]],
  ["#000", [[138,624],[148,624],[157,612]]]
];
leaderLines.forEach(d => {
  svg.append("path").attr("d", d3.line()(d[1]))
    .attr("fill", "none").attr("stroke", d[0]).attr("stroke-width", 1);
});

// ---- legend texts ----
svg.append("rect").attr("x", 11).attr("y", 505).attr("width", 44).attr("height", 12).attr("fill", sky);
svg.append("rect").attr("x", 10).attr("y", 550).attr("width", 41).attr("height", 12).attr("fill", sky);
legendLabel(6, 15, "Czas lokalny");
legendLabel(6, 26, "(CET/CEST)");
legendLabel(6, 43, "Temperatura gruntu", "#a52a2a");
legendLabel(28, 53, "max/min", "#a52a2a");
legendLabel(6, 64, "Temperatura:");
legendLabel(13, 77, "punkt środkowy", "#f00");
legendLabel(28, 87, "max/min", "#ffdccc");
legendLabel(10, 99, "odczuwana", "#00f");
legendLabel(28, 109, "max/min", "#a0dcff");
legendLabel(6, 120, "Temp. punktu rosy", "#6a5acd");
legendLabel(6, 137, "Opad powyżej skali", "#f00");
legendLabel(6, 151, "Wilgotność względna", rhColor);
legendLabel(6, 165, "Wystąpienie burzy");
legendLabel(6, 179, "Deszcz: max", "#00a000");
legendLabel(49, 190, "średni", "#00a000");
legendLabel(6, 201, "Śnieg:", "#0a28c8");
legendLabel(48, 201, "max", "#0a28c8");
legendLabel(48, 212, "średni", "#0a28c8");
legendLabel(6, 224, "Wystąpienie opadu", "#f00");
legendLabel(6, 236, "konwekcyjnego", "#f00");
legendLabel(5, 263, "Ciśnienie");
legendLabel(5, 276, "zredukowane");
legendLabel(5, 289, "do poziomu morza");
legendLabel(5, 318, "Wiatr na 10m:");
legendLabel(10, 334, "poryw powyżej skali", "#f00");
legendLabel(10, 348, "max porywy wiatru", "#f00");
legendLabel(10, 368, "prędkość wiatru", navy);
legendLabel(10, 382, "w środku obszaru", navy);
legendLabel(10, 409, "kierunek wiatru", navy);
legendLabel(6, 429, "Wierzchołek chmur", "#a52a2a");
legendLabel(6, 444, "Podstawa chmur*");
legendLabel(6, 455, "o pokryciu");
legendLabel(11, 468, "> 7.9 okt.");
legendLabel(11, 479, "> 6.5 okt.", "#555");
legendLabel(11, 490, "> 4.5 okt.", "#aaa");
legendLabel(11, 500, "> 2.5 okt.", "#ddd");
legendLabel(11, 511, "> 0.1 okt.", "#fff");
legendLabel(6, 526, "Widzialność", orange);
legendLabel(6, 543, "Chmury:");
legendLabel(10, 556, "wysokie", "#fff");
legendLabel(10, 569, "średnie", "#999");
legendLabel(10, 581, "niskie", "#444");
legendLabel(10, 593, "bardzo niskie", "#333");
legendLabel(5, 605, "Mgła", "#ffb400");
legendLabel(6, 622, "Czas uniwersalny (UTC)").style("letter-spacing", "0.7px");
label(5, 648, "* powyżej poziomu morza", "#000", "start", "8.5px", "bold");

// ---- header and footer ----
label(280, 8, "wschód słońca: 05:01 CEST", navy);
label(280, 21, "zachód słońca: 20:26 CEST", navy);
label(551, 8, "20°43'58\"E, 53°36'56\"N", navy, "middle");
label(551, 21, "(x=245,  y=366)", navy, "middle");
label(818, 8, "wysokość (min, środek, max)", navy, "end");
label(739, 21, "146 - 147 - 176 m", navy, "middle");
label(461, 38, "śro, 06.08", "#000", "middle");
label(630, 38, "czw, 07.08", "#000", "middle");
label(320, 50, "CEST", "#000", "middle");
label(782, 50, "CEST", "#000", "middle");
label(319, 612, "UTC", "#000", "middle");
label(782, 612, "UTC", "#000", "middle");
label(462, 625, "06.08", "#000", "middle");
label(631, 625, "07.08", "#000", "middle");
label(300, 648, "meteo@icm.edu.pl", navy).style("letter-spacing", "0.55px");
label(553, 648, "© 2007-2025 ICM, Uniwersytet Warszawski", navy).style("letter-spacing", "0.56px");

// ---- rotated axis titles ----
vLabel(289, 96, "temperatura");
vLabel(303, 96, "(°C)");
vLabel(289, 185, "opad");
vLabel(303, 185, "(mm/h, kg/m²/h)");
vLabel(289, 272, "ciśnienie");
vLabel(303, 272, "(hPa)");
vLabel(289, 362, "wiatr");
vLabel(303, 362, "(m/s)");
vLabel(289, 468, "pion. rozciągł. chm.");
vLabel(303, 477, "(km)");
vLabel(289, 568, "zachmurzenie");
vLabel(303, 563, "(oktanty)");
vLabel(800, 96, "(°C)");
vLabel(813, 96, "temperatura");
vLabel(800, 190, "(%)");
vLabel(813, 183, "wilgotność wzgl.");
vLabel(800, 272, "(mm Hg)");
vLabel(813, 272, "ciśnienie");
vLabel(800, 362, "(km/h)");
vLabel(813, 362, "wiatr");
vLabel(800, 477, "(km)");
vLabel(813, 477, "widzialność");
vLabel(800, 563, "(frakcja)");
vLabel(813, 565, "mgła");

// ---- compass letters beside the wind direction strip ----
[[291,416,"W",0],[301,408,"N",0],[300,423,"S",0],[311,416,"E",-90],
 [798,416,"W",0],[808,408,"N",0],[807,423,"S",0],[817,416,"E",-90]].forEach(d => {
  svg.append("text")
    .attr("transform", `translate(${d[0]},${d[1] + 4}) rotate(${d[3]})`)
    .attr("text-anchor", "middle")
    .attr("fill", navy)
    .text(d[2]);
});
</script>
</body>
</html>
